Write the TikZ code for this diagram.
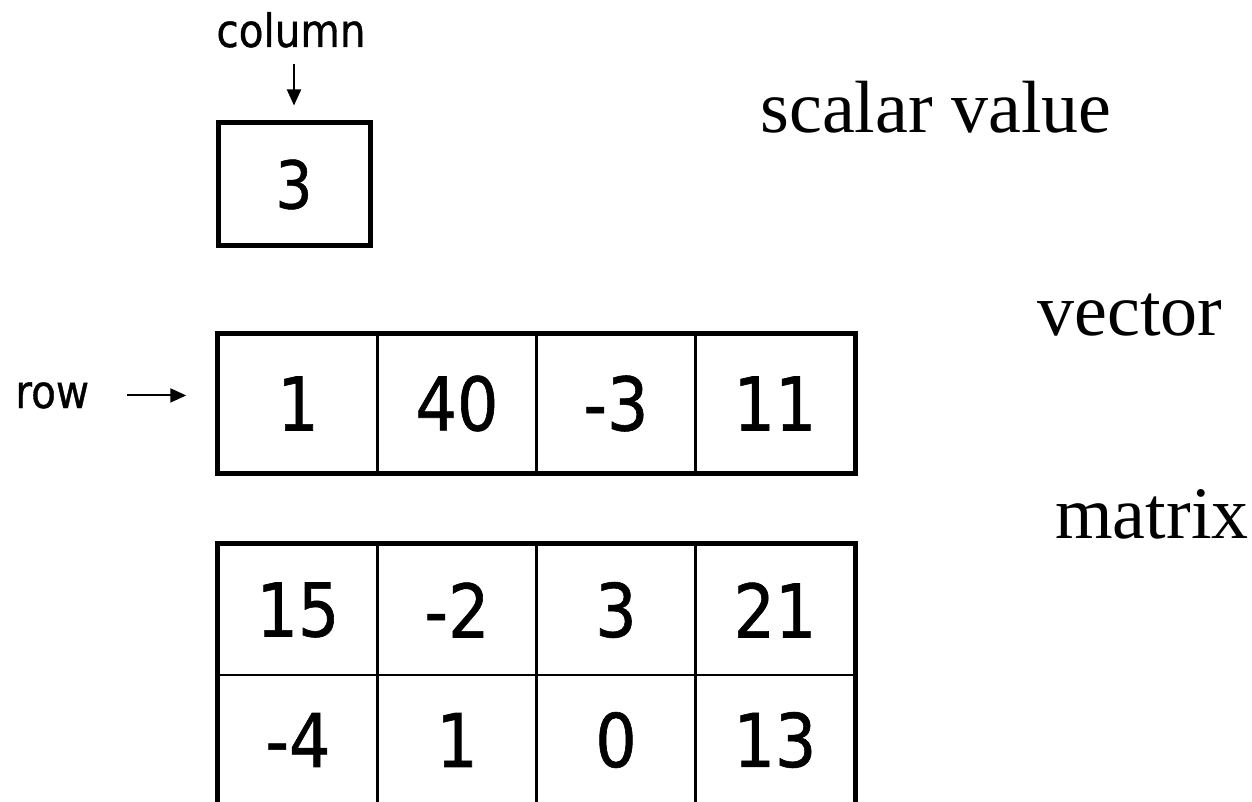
\documentclass[tikz,border=0pt]{standalone}
\usepackage{fontspec}
\setmainfont{Liberation Serif}
\newfontfamily\cellfont[FakeStretch=0.88,FakeBold=0.8]{DejaVu Sans}
\usepackage{tikz}
\usetikzlibrary{arrows.meta, positioning}

\begin{document}
\begin{tikzpicture}[x=0.5pt,y=-0.5pt,node distance=79.5pt,
    cell/.style={draw, line width=1.25pt, minimum width=79.5pt, inner sep=0pt,
                 font=\cellfont\fontsize{37}{40}\selectfont},
    vcell/.style={cell, minimum height=68.5pt},
    mcell/.style={cell, minimum height=65pt},
    frame/.style={line width=2.5pt},
    tag/.style={inner sep=0pt, font=\cellfont\fontsize{23}{26}\selectfont},
    kind/.style={anchor=base west, inner sep=0pt, font=\fontsize{37}{40}\selectfont},
    pointer/.style={-{Triangle[length=8pt,width=7pt]}, line width=1pt}]
  \useasboundingbox (0,0) rectangle (1252,802);

  % scalar
  \node[tag, anchor=base] (column) at (291,47) {column};
  \node[draw, frame, minimum width=76pt, minimum height=61.5pt, inner sep=0pt,
        font=\cellfont\fontsize{33}{36}\selectfont] (s) at (294,184.5) {3};
  \draw[pointer, shorten <=8pt, shorten >=7.5pt] (s.north |- column.south) -- (s.north);

  % vector
  \node[vcell] (v1) at (298,403.5) {1};
  \node[vcell] (v2) [right of=v1] {40};
  \node[vcell] (v3) [right of=v2] {-3};
  \node[vcell] (v4) [right of=v3] {11};
  \draw[frame] (v1.north west) rectangle (v4.south east);

  \node[tag, anchor=base west] (row) at (15,408) {row};
  \draw[pointer, shorten <=19pt, shorten >=15.5pt] (row.east) -- (row.east -| v1.west);

  % matrix
  \node[mcell] (m11) at (298,610) {15};
  \node[mcell] (m12) [right of=m11] {-2};
  \node[mcell] (m13) [right of=m12] {3};
  \node[mcell] (m14) [right of=m13] {21};
  \node[mcell] (m21) [below of=m11, node distance=65pt] {-4};
  \node[mcell] (m22) [right of=m21] {1};
  \node[mcell] (m23) [right of=m22] {0};
  \node[mcell] (m24) [right of=m23] {13};
  \draw[frame] (m11.north west) rectangle (m24.south east);

  % names
  \node[kind] (scalar) at (760,133) {scalar value};
  \node[kind] (vector) at (1037,335) {vector};
  \node[kind] (matrix) at (1055,538) {matrix};
\end{tikzpicture}
\end{document}
